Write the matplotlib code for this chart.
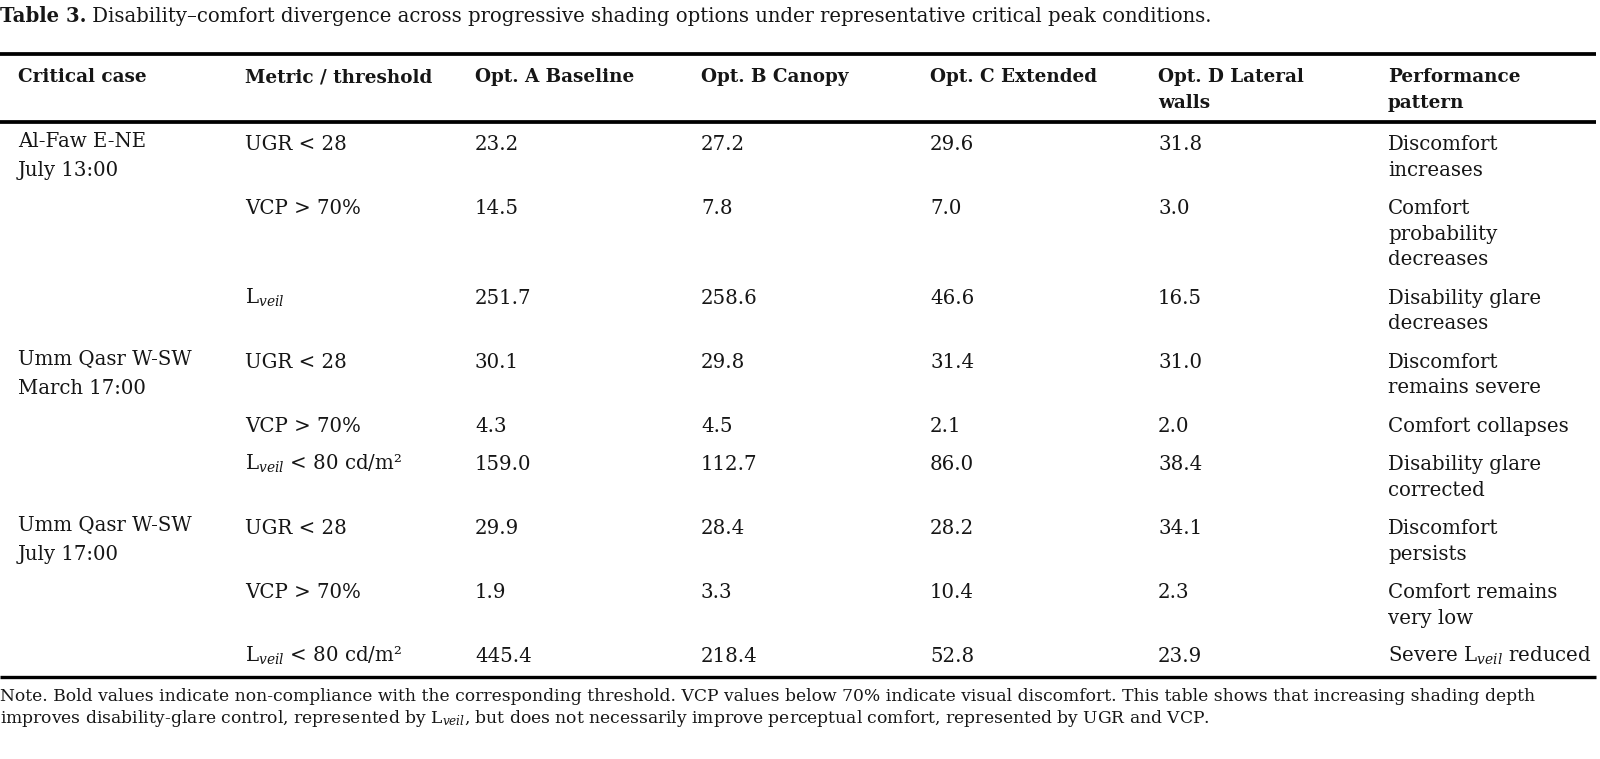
import matplotlib
matplotlib.use("Agg")
import matplotlib.pyplot as plt

plt.rcParams['font.family'] = ['DejaVu Serif']
plt.rcParams['mathtext.fontset'] = 'custom'
plt.rcParams['mathtext.rm'] = 'DejaVu Serif'
plt.rcParams['mathtext.it'] = 'DejaVu Serif:italic'

LV = r'L$_{\mathit{veil}}$'

title_bold = "Table 3."
title_rest = " Disability\u2013comfort divergence across progressive shading options under representative critical peak conditions."

headers = [["Critical case"], ["Metric / threshold"], ["Opt. A Baseline"], ["Opt. B Canopy"],
           ["Opt. C Extended"], ["Opt. D Lateral", "walls"], ["Performance", "pattern"]]

cases = [["Al-Faw E-NE", "July 13:00"], ["Umm Qasr W-SW", "March 17:00"], ["Umm Qasr W-SW", "July 17:00"]]
case_rows = [0, 3, 6]

metrics = ["UGR < 28", "VCP > 70%", LV,
           "UGR < 28", "VCP > 70%", LV + " < 80 cd/m\u00b2",
           "UGR < 28", "VCP > 70%", LV + " < 80 cd/m\u00b2"]
opt_a = [23.2, 14.5, 251.7, 30.1, 4.3, 159.0, 29.9, 1.9, 445.4]
opt_b = [27.2, 7.8, 258.6, 29.8, 4.5, 112.7, 28.4, 3.3, 218.4]
opt_c = [29.6, 7.0, 46.6, 31.4, 2.1, 86.0, 28.2, 10.4, 52.8]
opt_d = [31.8, 3.0, 16.5, 31.0, 2.0, 38.4, 34.1, 2.3, 23.9]
patterns = [["Discomfort", "increases"], ["Comfort", "probability", "decreases"],
            ["Disability glare", "decreases"], ["Discomfort", "remains severe"],
            ["Comfort collapses"], ["Disability glare", "corrected"],
            ["Discomfort", "persists"], ["Comfort remains", "very low"],
            ["Severe " + LV + " reduced"]]

note_lines = ["Note. Bold values indicate non-compliance with the corresponding threshold. VCP values below 70% indicate visual discomfort. This table shows that increasing shading depth",
              "improves disability-glare control, represented by " + LV + ", but does not necessarily improve perceptual comfort, represented by UGR and VCP."]

# layout (pixels)
col_x = [18, 245, 475, 701, 930, 1158, 1388]
line_h = 25.5
row_gap = 38.5
first_y = 144
base_off = 6
txt = '#161616'
fs = 14.2

fig = plt.figure(figsize=(16, 7.59), dpi=100)
ax = fig.add_axes([0, 0, 1, 1])
ax.set_xlim(0, 1600)
ax.set_ylim(759, 0)
ax.axis('off')

# title
t = ax.text(0, 16 + base_off, title_bold, fontsize=14.1, fontweight='bold', color=txt, va='baseline')
r = fig.canvas.get_renderer()
w = t.get_window_extent(renderer=r).width
ax.text(w, 16 + base_off, title_rest, fontsize=14.1, color=txt, va='baseline')

# rules
for y, lw in [(54, 2.7), (122, 2.7), (677, 2.4)]:
    ax.plot([0, 1596], [y, y], color='black', lw=lw, solid_capstyle='butt')

# header
for x, lines in zip(col_x, headers):
    for k, s in enumerate(lines):
        ax.text(x, 76 + k * line_h + base_off, s, fontsize=13.2, fontweight='bold', color=txt, va='baseline')

# rows
y = first_y
row_y = []
for i in range(len(metrics)):
    row_y.append(y)
    y += (len(patterns[i]) - 1) * line_h + row_gap

for c, i in zip(cases, case_rows):
    for k, s in enumerate(c):
        ax.text(col_x[0], row_y[i] - 3 + k * 29 + base_off, s, fontsize=fs, color=txt, va='baseline')

for i in range(len(metrics)):
    yy = row_y[i] + base_off
    ax.text(col_x[1], yy, metrics[i], fontsize=fs, color=txt, va='baseline')
    for x, vals in zip(col_x[2:6], [opt_a, opt_b, opt_c, opt_d]):
        ax.text(x, yy, f"{vals[i]:.1f}", fontsize=fs, color=txt, va='baseline')
    for k, s in enumerate(patterns[i]):
        ax.text(col_x[6], yy + k * line_h, s, fontsize=fs, color=txt, va='baseline')

# note
for k, s in enumerate(note_lines):
    ax.text(0, 696 + k * 22 + base_off - 1, s, fontsize=12.3, color=txt, va='baseline')

fig.savefig("out.png", dpi=100)
